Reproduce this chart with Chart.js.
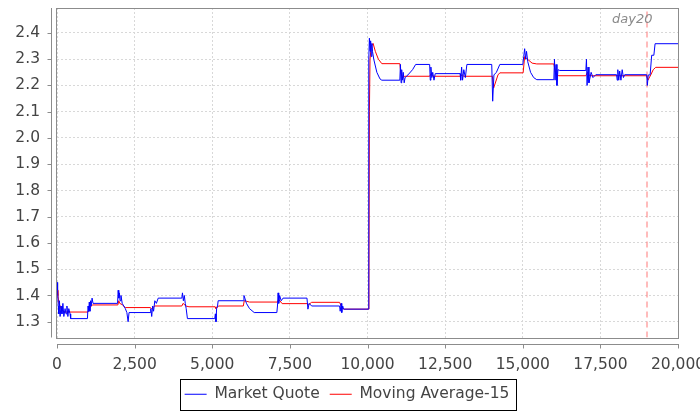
<!DOCTYPE html>
<html>
<head>
<meta charset="utf-8">
<title>Market Quote</title>
<script src="https://cdn.jsdelivr.net/npm/chart.js@4.4.0/dist/chart.umd.min.js"></script>
<style>
  html, body { margin: 0; padding: 0; background: #fff; }
  #wrap { width: 700px; height: 412px; }
</style>
</head>
<body>
<div id="wrap"><canvas id="chart" width="700" height="412"></canvas></div>
<script>
// [quote index, price]
const quotePoints = [
    [0, 1.45], [20, 1.42], [40, 1.36], [60, 1.33], [80, 1.38], [100, 1.32], [130, 1.36],
    [160, 1.33], [190, 1.37], [220, 1.32], [260, 1.35], [290, 1.33], [320, 1.36], [350, 1.32],
    [380, 1.35], [420, 1.33], [440, 1.312], [980, 1.312], [1000, 1.36], [1020, 1.34],
    [1040, 1.375], [1060, 1.34], [1080, 1.38], [1100, 1.36], [1130, 1.39], [1160, 1.37],
    [1950, 1.37], [1970, 1.42], [1990, 1.39], [2010, 1.41], [2030, 1.38], [2060, 1.40],
    [2100, 1.37], [2200, 1.35], [2250, 1.335], [2290, 1.30], [2320, 1.335], [3000, 1.335],
    [3020, 1.35], [3050, 1.32], [3080, 1.36], [3110, 1.34], [3150, 1.38], [3200, 1.37],
    [3260, 1.39], [4020, 1.39], [4040, 1.41], [4070, 1.38], [4100, 1.40], [4130, 1.37],
    [4160, 1.35], [4200, 1.312], [5080, 1.312], [5100, 1.33], [5120, 1.30], [5140, 1.35],
    [5170, 1.36], [5190, 1.38], [6000, 1.38], [6020, 1.40], [6050, 1.39], [6100, 1.37],
    [6200, 1.35], [6350, 1.335], [7080, 1.335], [7100, 1.36], [7120, 1.41], [7140, 1.37],
    [7170, 1.40], [7220, 1.38], [7280, 1.39], [8050, 1.39], [8080, 1.348], [8120, 1.37],
    [8200, 1.36], [9100, 1.36], [9120, 1.34], [9150, 1.37], [9170, 1.335], [9200, 1.36],
    [9230, 1.348], [10030, 1.348],
    [10040, 2.30], [10060, 2.38], [10080, 2.33], [10100, 2.37], [10120, 2.31], [10140, 2.36],
    [10160, 2.33], [10200, 2.30], [10300, 2.25], [10400, 2.225], [10460, 2.22], [11040, 2.22],
    [11060, 2.28], [11080, 2.21], [11100, 2.26], [11120, 2.22], [11150, 2.25], [11180, 2.21],
    [11210, 2.23], [11300, 2.24], [11450, 2.26], [11550, 2.28], [12000, 2.28], [12020, 2.22],
    [12040, 2.27], [12070, 2.23], [12100, 2.25], [12140, 2.22], [12180, 2.245], [12980, 2.245],
    [13000, 2.22], [13030, 2.27], [13060, 2.22], [13100, 2.26], [13150, 2.23], [13200, 2.28],
    [14000, 2.28], [14030, 2.14], [14070, 2.24], [14150, 2.25], [14260, 2.28], [15000, 2.28],
    [15030, 2.31], [15060, 2.34], [15090, 2.30], [15120, 2.33], [15160, 2.29], [15250, 2.25],
    [15350, 2.23], [15450, 2.222], [16000, 2.222], [16020, 2.30], [16040, 2.22], [16070, 2.28],
    [16100, 2.20], [16130, 2.26], [16190, 2.257], [17030, 2.257], [17050, 2.30], [17070, 2.20],
    [17100, 2.27], [17130, 2.21], [17200, 2.25], [17260, 2.23], [17350, 2.241], [18020, 2.241],
    [18040, 2.22], [18060, 2.26], [18090, 2.22], [18120, 2.255], [18160, 2.22], [18200, 2.26],
    [18240, 2.23], [18280, 2.241], [18990, 2.241], [19010, 2.20], [19040, 2.24], [19100, 2.24],
    [19150, 2.315], [19220, 2.315], [19260, 2.359], [20030, 2.359]
];

// [quote index, 15-quote moving average]
const averagePoints = [
    [0, 1.42], [30, 1.40], [60, 1.37], [100, 1.36], [150, 1.345], [250, 1.337], [1000, 1.337],
    [1040, 1.35], [1100, 1.36], [1150, 1.364], [1960, 1.364], [1990, 1.38], [2020, 1.37],
    [2100, 1.365], [2200, 1.354], [3000, 1.354], [3050, 1.35], [3150, 1.36], [4020, 1.36],
    [4060, 1.37], [4150, 1.36], [4250, 1.357], [5090, 1.357], [5120, 1.35], [5200, 1.36],
    [6000, 1.36], [6030, 1.38], [6100, 1.378], [6200, 1.375], [7100, 1.375], [7140, 1.385],
    [7250, 1.369], [8060, 1.369], [8100, 1.365], [8200, 1.374], [9100, 1.374], [9150, 1.36],
    [9230, 1.348], [10030, 1.348],
    [10045, 1.45], [10060, 2.10], [10080, 2.30], [10120, 2.35], [10180, 2.36], [10250, 2.33],
    [10350, 2.30], [10460, 2.283], [11040, 2.283], [11070, 2.25], [11120, 2.23], [11200, 2.235],
    [12000, 2.235], [12050, 2.245], [12100, 2.235], [12980, 2.235], [13050, 2.24], [13100, 2.235],
    [14020, 2.235], [14060, 2.19], [14200, 2.24], [14260, 2.248], [15010, 2.248], [15060, 2.31],
    [15150, 2.30], [15300, 2.285], [15450, 2.282], [16000, 2.282], [16050, 2.25], [16150, 2.237],
    [17030, 2.237], [17080, 2.25], [17150, 2.237], [18990, 2.237], [19030, 2.22], [19120, 2.24],
    [19200, 2.26], [19280, 2.269], [20030, 2.269]
];

const seriesNames = ['Market Quote', 'Moving Average-15'];
const seriesColors = ['#0000ff', '#ff0000'];
const xTicks = [0, 2500, 5000, 7500, 10000, 12500, 15000, 17500, 20000];
const yTicks = [1.3, 1.4, 1.5, 1.6, 1.7, 1.8, 1.9, 2.0, 2.1, 2.2, 2.3, 2.4];
const xMin = 0, xMax = 20030;
const yMin = 1.24, yMax = 2.495;
const markerX = 19000;
const markerLabel = 'day20';

const FONT = '"DejaVu Sans", "Liberation Sans", sans-serif';
const FONT_SIZE = 15.5;

// plot frame, detached axis lines, marker label and legend box
const framePlugin = {
    id: 'frame',
    afterDatasetsDraw(chart) {
        const { ctx, chartArea: a, scales: { x } } = chart;
        const px = Math.round(x.getPixelForValue(markerX)) + 0.5;
        ctx.save();
        ctx.font = 'italic 13px ' + FONT;
        ctx.fillStyle = '#8a8a8a';
        ctx.textAlign = 'right';
        ctx.textBaseline = 'middle';
        ctx.fillText(markerLabel, px + 5, a.top + 12);
        ctx.restore();
    },
    afterDraw(chart) {
        const { ctx, chartArea: a, scales: { x, y } } = chart;
        ctx.save();
        ctx.strokeStyle = '#8c8c8c';
        ctx.lineWidth = 1;
        ctx.strokeRect(Math.round(a.left) - 0.5, Math.round(a.top) + 0.5,
            Math.round(a.right - a.left), Math.round(a.bottom - a.top));

        const ax = Math.round(a.left) - 5.5;
        const ay = Math.round(a.bottom) + 6.5;
        ctx.beginPath();
        ctx.moveTo(ax, a.top);
        ctx.lineTo(ax, a.bottom);
        y.ticks.forEach(t => {
            const p = Math.round(y.getPixelForValue(t.value)) + 0.5;
            ctx.moveTo(ax - 4, p);
            ctx.lineTo(ax, p);
        });
        ctx.moveTo(a.left, ay);
        ctx.lineTo(a.right, ay);
        x.ticks.forEach(t => {
            const p = Math.round(x.getPixelForValue(t.value)) + 0.5;
            ctx.moveTo(p, ay);
            ctx.lineTo(p, ay + 4);
        });
        ctx.stroke();

        // box round the legend
        const hb = chart.legend.legendHitBoxes;
        if (hb && hb.length) {
            const first = hb[0], last = hb[hb.length - 1];
            const left = Math.round(first.left - 5) + 0.5;
            const right = Math.round(last.left + last.width + 7) + 0.5;
            const top = Math.round(first.top - 8) + 0.5;
            ctx.strokeStyle = '#000';
            ctx.strokeRect(left, top, right - left, 31);
        }
        ctx.restore();
    }
};

function makeDataset(i, points) {
    return {
        label: seriesNames[i],
        data: points.map(p => ({ x: p[0], y: p[1] })),
        borderColor: seriesColors[i],
        backgroundColor: seriesColors[i],
        pointBorderColor: seriesColors[i],
        pointBackgroundColor: seriesColors[i],
        pointBorderWidth: 1,
        borderWidth: 1,
        pointRadius: 0,
        tension: 0
    };
}

document.addEventListener('DOMContentLoaded', () => {
    const ctx = document.getElementById('chart').getContext('2d');

    // the day20 marker: a dashed vertical line across the whole value range
    const markerSet = {
        label: markerLabel,
        data: [{ x: markerX, y: yMin }, { x: markerX, y: yMax }],
        borderColor: '#ff7878',
        borderWidth: 1,
        borderDash: [6, 4],
        pointRadius: 0,
        order: 5
    };

    new Chart(ctx, {
        type: 'line',
        data: {
            datasets: [makeDataset(0, quotePoints), makeDataset(1, averagePoints), markerSet]
        },
        options: {
            responsive: false,
            animation: false,
            devicePixelRatio: 1,
            // left padding only moves the legend centre, y axis width makes up for it
            layout: { padding: { left: 15, right: 21, top: 8, bottom: 0 } },
            plugins: {
                tooltip: { enabled: false },
                legend: {
                    position: 'bottom',
                    labels: {
                        usePointStyle: true,
                        pointStyle: 'line',
                        pointStyleWidth: 22,
                        padding: 10,
                        color: '#444',
                        font: { family: FONT, size: FONT_SIZE },
                        filter: item => item.datasetIndex < 2
                    }
                }
            },
            scales: {
                x: {
                    type: 'linear',
                    min: xMin,
                    max: xMax,
                    grid: { color: '#d8d8d8', drawTicks: false },
                    border: { display: false, dash: [2, 2] },
                    afterBuildTicks: scale => {
                        scale.ticks = xTicks.map(v => ({ value: v }));
                    },
                    ticks: {
                        maxRotation: 0,
                        autoSkip: false,
                        padding: 18,
                        color: '#444',
                        font: { family: FONT, size: FONT_SIZE },
                        callback: v => v.toLocaleString('en-US')
                    },
                    afterFit(scale) {
                        scale.height = 39;
                        scale.paddingLeft = 0;
                        scale.paddingRight = 0;
                    }
                },
                y: {
                    min: yMin,
                    max: yMax,
                    grid: { color: '#d8d8d8', drawTicks: false },
                    border: { display: false, dash: [2, 2] },
                    afterBuildTicks: scale => {
                        scale.ticks = yTicks.map(v => ({ value: v }));
                    },
                    ticks: {
                        padding: 17,
                        color: '#444',
                        font: { family: FONT, size: FONT_SIZE },
                        callback: v => v.toFixed(1)
                    },
                    afterFit(scale) {
                        scale.width = 42;
                        scale.paddingTop = 0;
                        scale.paddingBottom = 0;
                    }
                }
            }
        },
        plugins: [framePlugin]
    });
});
</script>
</body>
</html>
